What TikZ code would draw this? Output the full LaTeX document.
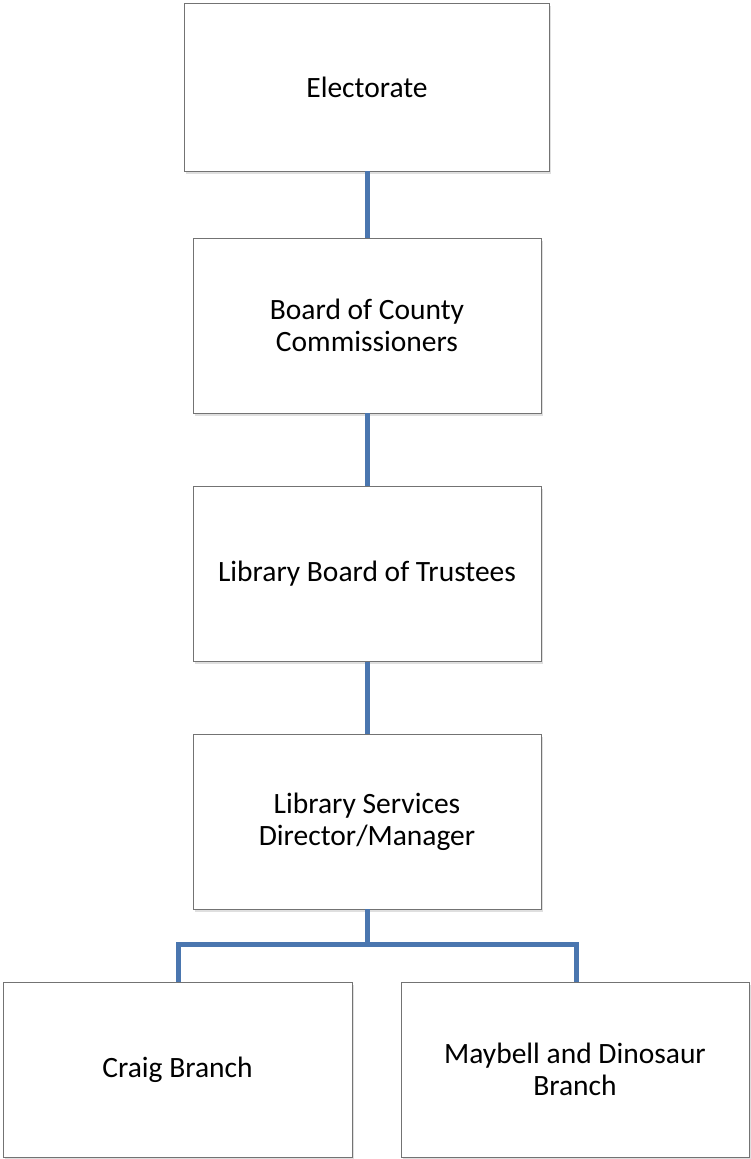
\documentclass[tikz,border=0pt]{standalone}
\usepackage{fontspec}
\setmainfont{Carlito}
\usepackage{tikz}
\usetikzlibrary{positioning, shadows}
\definecolor{linkblue}{HTML}{4A76AF}

\begin{document}
\begin{tikzpicture}[
    x=1pt, y=1pt,
    node distance=73pt,
    orgbox/.style={rectangle, draw=black!55, line width=0.9pt, fill=white, minimum width=348pt, minimum height=175pt, align=center, font=\fontsize{29.5}{32}\selectfont, drop shadow={opacity=0.25, shadow xshift=1.5pt, shadow yshift=-2.5pt}},
    link/.style={draw=linkblue, line width=5pt}
]
\useasboundingbox (0,0) rectangle (750,-1159);

\node[orgbox, minimum width=365pt, minimum height=168pt] (electorate) at (367,-87) {Electorate};
\node[orgbox] (county) at (367,-325.5) {Board of County\\Commissioners};
\node[orgbox] (trustees) at (367,-574) {Library Board of Trustees};
\node[orgbox] (director) at (367,-821.5) {Library Services\\Director/Manager};
\node[orgbox, minimum width=349pt] (craig) at (177.5,-1069.5) {Craig Branch};
\node[orgbox] (maybell) at (575,-1069.5) {Maybell and Dinosaur\\Branch};

% branching point under the director
\coordinate (split) at (367,-944);

\draw[link] (electorate) -- (county);
\draw[link] (county) -- (trustees);
\draw[link] (trustees) -- (director);
\draw[link] (director.south) -- (split);
\draw[link] (craig.north -| 178,0) |- (split) -| (maybell.north -| 576,0);
\end{tikzpicture}
\end{document}
